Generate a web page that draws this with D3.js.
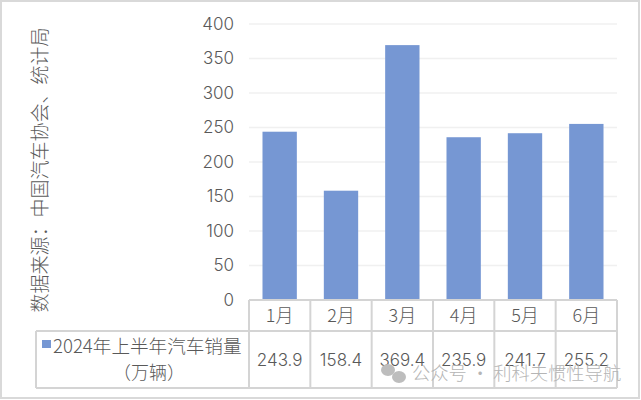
<!DOCTYPE html>
<html>
<head>
<meta charset="utf-8">
<script src="https://cdn.jsdelivr.net/npm/d3@7"></script>
<style>
    html, body { margin: 0; padding: 0; background: #fff; overflow: hidden; }
    svg { display: block; }
    text { font-family: "Noto Sans CJK SC", "Noto Sans", sans-serif; font-weight: 300; fill: #595959; }
</style>
</head>
<body>
<svg id="chart" width="641" height="400"></svg>
<script>
let months = ["1月", "2月", "3月", "4月", "5月", "6月"];
let sales = [243.9, 158.4, 369.4, 235.9, 241.7, 255.2];
let yTicks = [0, 50, 100, 150, 200, 250, 300, 350, 400];
let seriesLines = ["2024年上半年汽车销量", "（万辆）"];
let sourceLabel = "数据来源：中国汽车协会、统计局";
let watermark = "公众号 · 利科夫惯性导航";

let svg = d3.select("#chart");
let plot = { left: 249, right: 617, top: 24, bottom: 300 };
let tableGrey = "#d4d4d4";
let latinFont = "Inter, 'Noto Sans', sans-serif";

// outer frame of the screenshot
svg.append("rect")
    .attr("x", 1).attr("y", 1).attr("width", 638).attr("height", 397)
    .attr("fill", "#fff").attr("stroke", "#d9d9d9").attr("stroke-width", 2);

let x = d3.scaleBand().domain(months).range([plot.left, plot.right]).paddingInner(0.44).paddingOuter(0.22);
let cell = d3.scaleBand().domain(months).range([plot.left, plot.right]);
let y = d3.scaleLinear().domain([0, 400]).range([plot.bottom, plot.top]);

// gridlines
svg.append("g")
    .selectAll("line")
    .data(yTicks.slice(1))
    .join("line")
    .attr("x1", plot.left).attr("x2", plot.right)
    .attr("y1", (d) => y(d)).attr("y2", (d) => y(d))
    .attr("stroke", "#f0f0f0").attr("stroke-width", 1.5);

let yAxis = svg.append("g")
    .attr("transform", `translate(${plot.left},0)`)
    .call(d3.axisLeft(y).tickValues(yTicks).tickSize(0).tickPadding(15));
yAxis.select(".domain").remove();
yAxis.selectAll("text")
    .attr("font-size", 17)
    .style("font-family", latinFont)
    .style("font-weight", 300)
    .style("fill", "#595959");

// bars
svg.append("g")
    .selectAll("rect")
    .data(sales)
    .join("rect")
    .attr("x", (d, i) => x(months[i]))
    .attr("y", (d) => y(d))
    .attr("width", x.bandwidth())
    .attr("height", (d) => y(0) - y(d))
    .attr("fill", "#7697d3");

// data table under the plot
let row1 = 331;
let row2 = 388;
let legendLeft = 36;
let table = svg.append("g").attr("stroke", tableGrey).attr("stroke-width", 2);
let edges = months.map((m) => cell(m)).concat(plot.right);
edges.forEach((ex) => {
    table.append("line").attr("x1", ex).attr("x2", ex).attr("y1", plot.bottom).attr("y2", row2);
});
table.append("line").attr("x1", plot.left).attr("x2", plot.right).attr("y1", plot.bottom).attr("y2", plot.bottom);
table.append("line").attr("x1", legendLeft).attr("x2", plot.right).attr("y1", row1).attr("y2", row1);
table.append("line").attr("x1", legendLeft).attr("x2", plot.right).attr("y1", row2).attr("y2", row2);
table.append("line").attr("x1", legendLeft).attr("x2", legendLeft).attr("y1", row1).attr("y2", row2);

svg.append("g")
    .selectAll("text")
    .data(months)
    .join("text")
    .attr("x", (d) => cell(d) + cell.bandwidth() / 2)
    .attr("y", 322)
    .attr("text-anchor", "middle")
    .attr("font-size", 18)
    .text((d) => d);

svg.append("g")
    .selectAll("text")
    .data(sales)
    .join("text")
    .attr("x", (d, i) => cell(months[i]) + cell.bandwidth() / 2)
    .attr("y", 366)
    .attr("text-anchor", "middle")
    .attr("font-size", 17)
    .style("font-family", latinFont)
    .text((d) => d.toFixed(1));

// legend cell
svg.append("rect")
    .attr("x", 42).attr("y", 340).attr("width", 9).attr("height", 8)
    .attr("fill", "#7697d3");
svg.append("text")
    .attr("x", 53).attr("y", 353)
    .attr("font-size", 18.6)
    .text(seriesLines[0]);
svg.append("text")
    .attr("x", 149).attr("y", 379)
    .attr("text-anchor", "middle")
    .attr("font-size", 18)
    .text(seriesLines[1]);

// rotated source note
svg.append("text")
    .attr("transform", "translate(47,170) rotate(-90)")
    .attr("text-anchor", "middle")
    .attr("font-size", 19)
    .text(sourceLabel);

// watermark
let mark = svg.append("g").attr("fill", "#bdbdbd");
mark.append("ellipse").attr("cx", 388).attr("cy", 370).attr("rx", 7).attr("ry", 6);
mark.append("ellipse").attr("cx", 399).attr("cy", 377).attr("rx", 7).attr("ry", 6);
svg.append("text")
    .attr("x", 412).attr("y", 380)
    .attr("font-size", 18.3)
    .style("fill", "#b5b5b5")
    .text(watermark);
</script>
</body>
</html>
